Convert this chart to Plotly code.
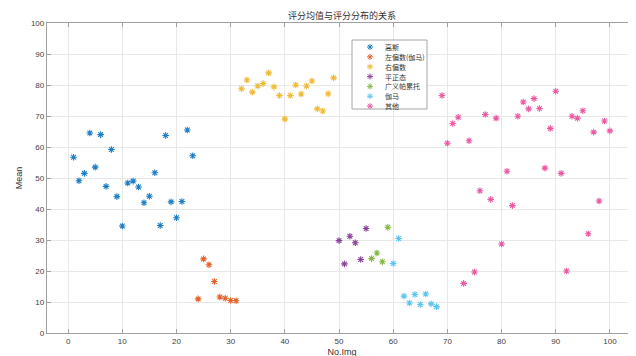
import plotly.graph_objects as go

# ---- data ----
names = ["高斯", "左偏数(伽马)", "右偏数", "平正态", "广义帕累托", "伽马", "其他"]
colors = ["#1f7fc4", "#e0642a", "#efbb35", "#8a449a", "#85b843", "#5cc6f0", "#ec5aa4"]

gauss_x = list(range(1, 24))
gauss_y = [56.7, 49.1, 51.5, 64.5, 53.5, 64.0, 47.3, 59.2, 44.0, 34.5, 48.4, 49.0,
           47.1, 42.0, 44.1, 51.7, 34.7, 63.7, 42.3, 37.2, 42.4, 65.5, 57.2]

leftskew_x = list(range(24, 32))
leftskew_y = [11.0, 23.9, 22.0, 16.6, 11.6, 11.2, 10.5, 10.4]

rightskew_x = list(range(32, 50))
rightskew_y = [78.8, 81.6, 77.7, 79.7, 80.5, 83.9, 79.4, 76.6, 69.0, 76.6, 80.0,
               77.1, 79.7, 81.3, 72.3, 71.6, 77.2, 82.3]

flat_x = list(range(50, 56))
flat_y = [29.8, 22.3, 31.2, 29.1, 23.7, 33.7]

pareto_x = list(range(56, 60))
pareto_y = [24.0, 25.8, 23.0, 34.1]

gamma_x = list(range(60, 69))
gamma_y = [22.4, 30.5, 11.9, 9.7, 12.4, 9.2, 12.6, 9.4, 8.5]

other_x = list(range(69, 101))
other_y = [76.6, 61.2, 67.6, 69.6, 16.0, 62.0, 19.7, 45.9, 70.5, 43.1, 69.3, 28.7,
           52.2, 41.1, 69.9, 74.5, 72.3, 75.6, 72.4, 53.2, 66.0, 78.0, 51.5, 20.0,
           69.9, 69.3, 71.7, 32.0, 64.8, 42.6, 68.4, 65.2]

xticks = list(range(0, 101, 10))
yticks = list(range(0, 101, 10))

series = [(gauss_x, gauss_y), (leftskew_x, leftskew_y), (rightskew_x, rightskew_y),
          (flat_x, flat_y), (pareto_x, pareto_y), (gamma_x, gamma_y), (other_x, other_y)]

W, H = 636, 356
L, R, T, B = 39, 629, 15, 325
XR = [-3.9, 105.0]
YR = [0.0, 100.0]


def px2x(px):
    return XR[0] + (px - L) / (R - L) * (XR[1] - XR[0])


def px2y(py):
    return YR[0] + (B - py) / (B - T) * (YR[1] - YR[0])


fig = go.Figure()
for (xs, ys), nm, c in zip(series, names, colors):
    fig.add_trace(go.Scatter(
        x=xs, y=ys, mode="markers", name=nm, showlegend=False,
        marker=dict(symbol="asterisk-open", size=5.5, color=c,
                    line=dict(color=c, width=1.1)),
    ))

# custom compact legend (layout positions in pixels, converted to axis units)
leg_x0, leg_x1, leg_y0, leg_y1 = 344, 419, 32, 101
row_px = [39 + i * 9.85 for i in range(len(names))]
fig.add_shape(type="rect", xref="x", yref="y",
              x0=px2x(leg_x0), x1=px2x(leg_x1), y0=px2y(leg_y1), y1=px2y(leg_y0),
              line=dict(color="#a6a6a6", width=1), fillcolor="white", layer="between")
fig.add_trace(go.Scatter(
    x=[px2x(362)] * len(names), y=[px2y(p) for p in row_px], mode="markers",
    showlegend=False, hoverinfo="skip",
    marker=dict(symbol="asterisk-open", size=5, color=colors,
                line=dict(color=colors, width=1.0)),
))
for nm, p in zip(names, row_px):
    fig.add_annotation(x=px2x(375), y=px2y(p), xref="x", yref="y", text=nm, showarrow=False,
                       xanchor="left", yanchor="middle",
                       font=dict(family="Noto Sans CJK SC", size=7, color="#333333"))

axis_common = dict(
    showgrid=True, gridcolor="#e8e8e8", gridwidth=1,
    showline=True, linecolor="#a0a0a0", linewidth=1.3, mirror="ticks",
    ticks="inside", ticklen=4, tickcolor="#a0a0a0", tickwidth=1,
    zeroline=False, automargin=False,
    tickfont=dict(family="Liberation Sans", size=8, color="#404040"),
)

fig.update_layout(
    width=W, height=H,
    margin=dict(l=L, r=W - R, t=T, b=H - B, autoexpand=False),
    paper_bgcolor="white", plot_bgcolor="white",
    title=dict(text="评分均值与评分分布的关系", x=(L + R) / 2 / W, xanchor="center",
               y=1 - 8 / H, yanchor="middle",
               font=dict(family="Noto Sans CJK SC", size=9, color="#333333")),
    xaxis=dict(range=XR, tickvals=xticks, **axis_common,
               title=dict(text="No.Img", standoff=3,
                          font=dict(family="Liberation Sans", size=9, color="#333333"))),
    yaxis=dict(range=YR, tickvals=yticks, **axis_common,
               title=dict(text="Mean", standoff=6,
                          font=dict(family="Liberation Sans", size=9, color="#333333"))),
    font=dict(family="Liberation Sans"),
)

fig.write_html("out.html")
